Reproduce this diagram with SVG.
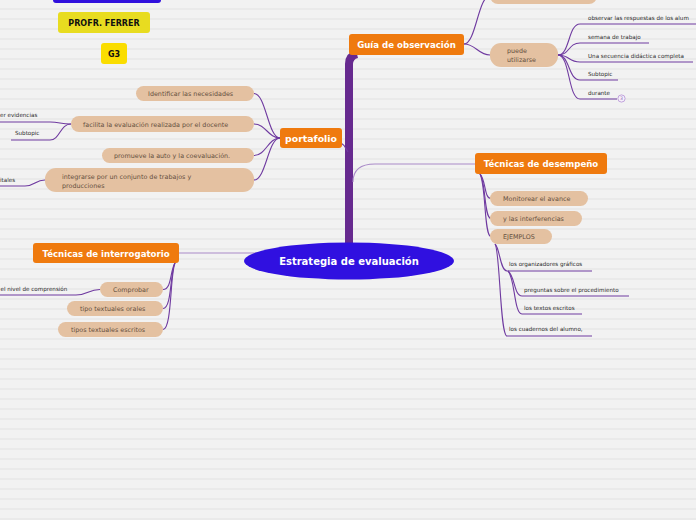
<svg xmlns="http://www.w3.org/2000/svg" width="696" height="520" viewBox="0 0 696 520">
<defs>
<pattern id="bg" width="10" height="10" patternUnits="userSpaceOnUse">
<rect width="10" height="10" fill="#f2f2f2"/>
<rect y="8" width="10" height="2" fill="#eaeaea"/>
</pattern>
</defs>
<style>
.main{fill:#ef7a0e}
.pill{fill:#e4c1a1}
.bt{font-family:"DejaVu Sans",Verdana,sans-serif;font-weight:bold;fill:#fff;font-size:8.6px}
.pt{font-family:"DejaVu Sans",Verdana,sans-serif;fill:#65503f;font-size:6.4px}
.st{font-family:"DejaVu Sans",Verdana,sans-serif;fill:#2a2a2a;font-size:5.6px}
.ln{fill:none;stroke:#6f3aa0;stroke-width:1.1}
.lt{fill:none;stroke:#a98ac8;stroke-width:1.1}
</style>
<rect width="696" height="520" fill="url(#bg)"/>

<g id="connectors">
<path d="M349,245 L349,64 Q349,56 357,54" fill="none" stroke="#672a8f" stroke-width="8"/>
<path class="lt" d="M353,182 C353,170 360,164 375,164 L476,164"/>
<path class="lt" d="M179,253 L260,253"/>
<path class="ln" d="M341,143 C345,145 346,149 348,152"/>
<path class="ln" d="M280,138 C268,138 266,93.5 254,93.5"/>
<path class="ln" d="M280,138 C268,138 266,124 254,124"/>
<path class="ln" d="M280,138 C268,138 266,155.5 254,155.5"/>
<path class="ln" d="M280,138 C268,138 266,180 254,180"/>
<path class="ln" d="M71,124 C60,124 60,122 50,122 L0,122"/>
<path class="ln" d="M71,124 C60,124 60,140 50,140 L11,140"/>
<path class="ln" d="M45,180 C35,180 35,186 25,186 L0,186"/>
<path class="ln" d="M464,44 C476,44 478,-4 490,-4"/>
<path class="ln" d="M464,44 C476,44 478,55 490,55"/>
<path class="ln" d="M558,55 C570,55 568,24 580,24 L696,24"/>
<path class="ln" d="M558,55 C570,55 568,43 580,43 L649,43"/>
<path class="ln" d="M558,55 C570,55 568,62 580,62 L693,62"/>
<path class="ln" d="M558,55 C570,55 568,80 580,80 L618,80"/>
<path class="ln" d="M558,55 C570,55 568,99 580,99 L617,99"/>
<path class="ln" d="M480,174 C486,180 484,198.5 491,198.5"/>
<path class="ln" d="M480,174 C486,182 484,218.5 491,218.5"/>
<path class="ln" d="M480,174 C486,185 484,236.5 491,236.5"/>
<path class="ln" d="M495,244 C500,248 500,271 507,271 L592,271"/>
<path class="ln" d="M495,244 C500,250 500,336 507,336 L592,336"/>
<path class="ln" d="M508,271 C515,276 514,296 522,296 L629,296"/>
<path class="ln" d="M508,271 C515,278 514,314 522,314 L582,314"/>
<path class="ln" d="M175,263 C170,270 172,289.5 163,289.5"/>
<path class="ln" d="M175,263 C170,272 172,308.5 163,308.5"/>
<path class="ln" d="M175,263 C170,274 172,329.5 163,329.5"/>
<path class="ln" d="M100,289.5 C88,289.5 88,295 76,295 L0,295"/>
</g>

<g id="top-blue"><rect x="53" y="-10" width="108" height="13" rx="3" fill="#3010dd"/></g>
<g id="profr"><rect x="58" y="12" width="92" height="21" rx="3" fill="#e8dc20"/><text x="104" y="26" text-anchor="middle" font-family="DejaVu Sans,sans-serif" font-weight="bold" font-size="8px" fill="#111">PROFR. FERRER</text></g>
<g id="g3"><rect x="101" y="43" width="26" height="21" rx="3" fill="#fadd00"/><text x="114" y="57" text-anchor="middle" font-family="DejaVu Sans,sans-serif" font-weight="bold" font-size="8px" fill="#111">G3</text></g>

<g id="central"><ellipse cx="349" cy="261" rx="105" ry="18.5" fill="#3010e0"/><text x="349" y="265" text-anchor="middle" class="bt" style="font-size:10px">Estrategia de evaluación</text></g>

<g id="guia"><rect class="main" x="349" y="34" width="115" height="21" rx="3"/><text class="bt" x="406.5" y="47.5" text-anchor="middle">Guía de observación</text></g>
<g id="top-pill"><rect class="pill" x="490" y="-14" width="107" height="18" rx="8"/></g>
<g id="puede"><rect class="pill" x="490" y="43" width="68" height="24" rx="11"/><text class="pt" x="507" y="53">puede</text><text class="pt" x="507" y="62">utilizarse</text></g>
<g id="observar"><text class="st" x="588" y="20">observar las respuestas de los alum</text></g>
<g id="semana"><text class="st" x="588" y="39">semana de trabajo</text></g>
<g id="secuencia"><text class="st" x="588" y="58">Una secuencia didáctica completa</text></g>
<g id="subtopic1"><text class="st" x="588" y="76">Subtopic</text></g>
<g id="durante"><text class="st" x="588" y="95">durante</text><circle cx="621.5" cy="98.5" r="3.6" fill="#f6f0fa" stroke="#b48fd6" stroke-width="0.8"/><text x="621.5" y="100.3" text-anchor="middle" font-family="DejaVu Sans,sans-serif" font-size="4.6px" fill="#8a64b0">3</text></g>

<g id="portafolio"><rect class="main" x="280" y="128" width="62" height="20" rx="3"/><text class="bt" x="311" y="141.5" text-anchor="middle" style="font-size:9.4px">portafolio</text></g>
<g id="identificar"><rect class="pill" x="136" y="86" width="118" height="15" rx="7.5"/><text class="pt" x="148" y="96">Identificar las necesidades</text></g>
<g id="facilita"><rect class="pill" x="71" y="116" width="183" height="16" rx="8"/><text class="pt" x="83" y="126.5">facilita la evaluación realizada por el docente</text></g>
<g id="evidencias"><text class="st" x="0" y="117">er evidencias</text></g>
<g id="subtopic2"><text class="st" x="15" y="135">Subtopic</text></g>
<g id="promueve"><rect class="pill" x="102" y="148" width="152" height="15" rx="7.5"/><text class="pt" x="114" y="158">promueve la auto y la coevaluación.</text></g>
<g id="integrarse"><rect class="pill" x="45" y="168" width="209" height="24" rx="11"/><text class="pt" x="62" y="179">integrarse por un conjunto de trabajos y</text><text class="pt" x="62" y="187.5">producciones</text></g>
<g id="itales"><text class="st" x="0" y="182">itales</text></g>

<g id="desempeno"><rect class="main" x="475" y="153" width="132" height="21" rx="3"/><text class="bt" x="541" y="166.5" text-anchor="middle">Técnicas de desempeño</text></g>
<g id="monitorear"><rect class="pill" x="490" y="191" width="98" height="15" rx="7.5"/><text class="pt" x="503" y="201">Monitorear el avance</text></g>
<g id="interferencias"><rect class="pill" x="490" y="211" width="92" height="15" rx="7.5"/><text class="pt" x="503" y="221">y las interferencias</text></g>
<g id="ejemplos"><rect class="pill" x="490" y="229" width="62" height="15" rx="7.5"/><text class="pt" x="503" y="239">EJEMPLOS</text></g>
<g id="organizadores"><text class="st" x="509" y="266">los organizadores gráficos</text></g>
<g id="preguntas"><text class="st" x="524" y="292">preguntas sobre el procedimiento</text></g>
<g id="textos"><text class="st" x="524" y="310">los textos escritos</text></g>
<g id="cuadernos"><text class="st" x="509" y="331">los cuadernos del alumno,</text></g>

<g id="interrogatorio"><rect class="main" x="33" y="243" width="146" height="20" rx="3"/><text class="bt" x="106" y="256.5" text-anchor="middle">Técnicas de interrogatorio</text></g>
<g id="comprobar"><rect class="pill" x="100" y="282" width="63" height="15" rx="7.5"/><text class="pt" x="113" y="292">Comprobar</text></g>
<g id="comprension"><text class="st" x="0.5" y="291">el nivel de comprensión</text></g>
<g id="orales"><rect class="pill" x="67" y="301" width="96" height="15" rx="7.5"/><text class="pt" x="80" y="311">tipo textuales orales</text></g>
<g id="escritos"><rect class="pill" x="58" y="322" width="105" height="15" rx="7.5"/><text class="pt" x="71" y="332">tipos textuales escritos</text></g>
</svg>
